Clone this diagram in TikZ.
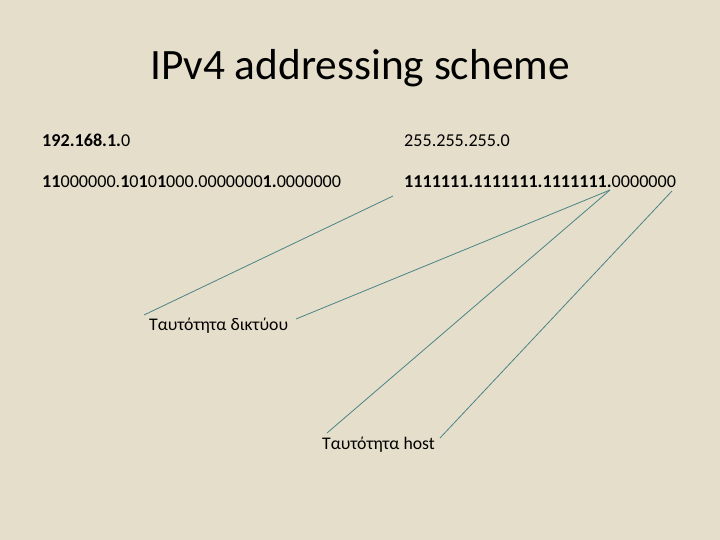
\documentclass[tikz,border=0pt]{standalone}
\usepackage{fontspec}
\setmainfont{Carlito}
\definecolor{bg}{RGB}{229,222,202}
\definecolor{lnc}{RGB}{74,132,134}
\tikzset{
  txt/.style={anchor=base west,inner sep=0pt,font=\fontsize{18.2}{20}\selectfont},
  lbl/.style={anchor=base west,inner sep=0pt,font=\fontsize{17.8}{20}\selectfont},
  conn/.style={draw=lnc,line width=0.8bp}
}
\begin{document}
\begin{tikzpicture}[x=1bp,y=-1bp]
\fill[bg] (0,0) rectangle (720,540);
\useasboundingbox (0,0) rectangle (720,540);
\node[anchor=base,inner sep=0pt,font=\fontsize{43.5}{46}\selectfont] (title) at (360,79.5) {IPv4 addressing scheme};
\node[txt] (ip) at (42,147) {\textbf{192.168.1.}0};
\node[txt] (mask) at (404,147) {255.255.255.0};
\node[txt] (ipbin) at (42,188) {\textbf{11}000000.\textbf{1}0\textbf{1}0\textbf{1}000.0000000\textbf{1.}0000000};
\node[txt] (maskbin) at (404,188) {\textbf{1111111.1111111.1111111.}0000000};
\node[lbl] (netid) at (149,330) {Ταυτότητα δικτύου};
\node[lbl] (hostid) at (322,449) {Ταυτότητα host};
\coordinate (a1) at (393,196);
\coordinate (a2) at (144,315);
\coordinate (b1) at (296,319);
\coordinate (c) at (610,190);
\coordinate (d1) at (327,433);
\coordinate (e1) at (672,191);
\coordinate (e2) at (440,438);
\draw[conn] (a1) -- (a2);
\draw[conn] (b1) -- (c);
\draw[conn] (c) -- (d1);
\draw[conn] (e1) -- (e2);
\end{tikzpicture}
\end{document}
